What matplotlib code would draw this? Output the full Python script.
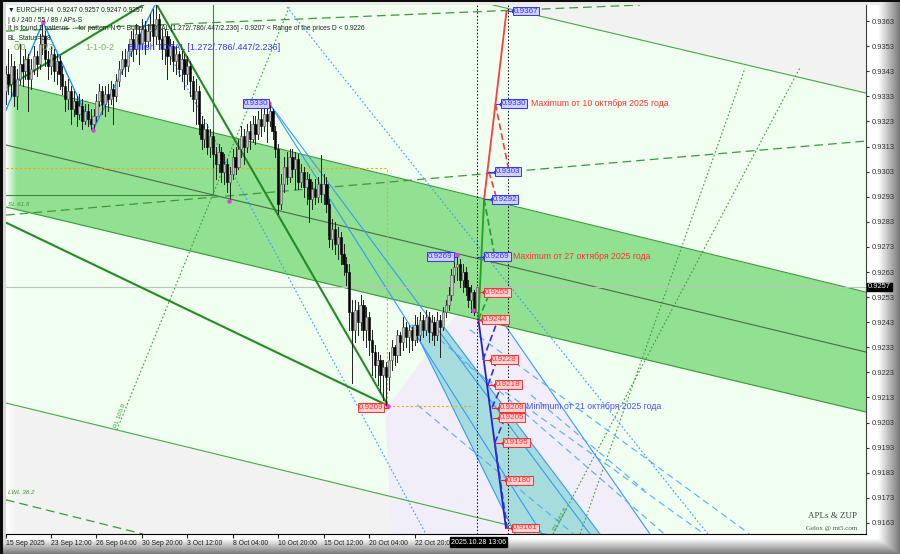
import numpy as np
import matplotlib
matplotlib.use("Agg")
import matplotlib.pyplot as plt

plt.rcParams['font.family'] = ['Liberation Sans', 'DejaVu Sans']

# ---------------- candle data (price in pips: 9342 -> 0.9342) ----------------
first_open = 9335
closes = [9342, 9338, 9345, 9333, 9340, 9346, 9343, 9348, 9340, 9344,
          9349, 9346, 9354, 9357, 9348, 9345, 9350, 9343, 9347, 9342,
          9337, 9332, 9335, 9328, 9331, 9326, 9329, 9323, 9327, 9324,
          9322, 9325, 9331, 9335, 9330, 9334, 9332, 9336, 9333, 9339,
          9344, 9348, 9345, 9351, 9356, 9352, 9358, 9354, 9360, 9355,
          9359, 9362, 9357, 9364, 9356, 9352, 9357, 9349, 9353, 9347,
          9350, 9344, 9348, 9342, 9345, 9339, 9332, 9335, 9322, 9316,
          9320, 9313, 9317, 9310, 9306, 9311, 9303, 9306, 9299, 9302,
          9309, 9305, 9312, 9317, 9313, 9319, 9316, 9322, 9318, 9324,
          9321, 9326, 9323, 9327, 9319, 9312, 9290, 9298, 9305, 9301,
          9309, 9304, 9308, 9299, 9303, 9297, 9300, 9292, 9296, 9293,
          9298, 9294, 9298, 9290, 9276, 9280, 9274, 9277, 9270, 9266,
          9263, 9247, 9240, 9248, 9243, 9250, 9240, 9245, 9236, 9231,
          9226, 9228, 9222, 9225, 9221, 9228, 9233, 9230, 9238, 9235,
          9241, 9237, 9240, 9236, 9242, 9238, 9244, 9240, 9245, 9239,
          9243, 9238, 9244, 9241, 9247, 9250, 9254, 9262, 9265, 9266,
          9260, 9263, 9257, 9252, 9255, 9247, 9257]
highs = [9345, 9352, 9350, 9347, 9344, 9354, 9349, 9352, 9350, 9348,
         9353, 9351, 9358, 9363, 9359, 9351, 9353, 9352, 9350, 9349,
         9345, 9339, 9340, 9337, 9335, 9333, 9334, 9332, 9330, 9330,
         9328, 9328, 9334, 9338, 9337, 9337, 9338, 9339, 9338, 9342,
         9347, 9351, 9352, 9354, 9359, 9360, 9362, 9361, 9364, 9363,
         9362, 9366, 9368, 9369.4, 9366, 9360, 9360, 9359, 9356, 9355,
         9353, 9351, 9351, 9350, 9349, 9347, 9341, 9340, 9337, 9325,
         9324, 9322, 9320, 9319, 9313, 9314, 9313, 9310, 9308, 9305,
         9312, 9313, 9316, 9321, 9320, 9322, 9323, 9325, 9325, 9327,
         9328, 9329, 9329, 9330.3, 9328, 9321, 9314, 9302, 9309, 9311,
         9312, 9312, 9311, 9310, 9306, 9305, 9303, 9302, 9299, 9300,
         9301, 9309.6, 9302, 9301, 9292, 9284, 9283, 9281, 9279, 9274,
         9269, 9266, 9252, 9252, 9251, 9254, 9252, 9249, 9247, 9240,
         9234, 9231, 9230, 9228, 9227, 9231, 9236, 9234, 9240, 9239,
         9245, 9243, 9242, 9241, 9246, 9245, 9247, 9246, 9248, 9247,
         9246, 9245, 9247, 9246, 9249, 9252, 9257, 9264, 9267, 9269.8,
         9268, 9266, 9265, 9260, 9258, 9256, 9257]
lows = [9330, 9334, 9333, 9329, 9328, 9338, 9337, 9340, 9327, 9336,
        9342, 9341, 9344, 9350, 9345, 9340, 9342, 9339, 9338, 9336,
        9334, 9327, 9328, 9322, 9325, 9321, 9324, 9320, 9322, 9321,
        9320, 9319.6, 9323, 9329, 9326, 9325, 9327, 9330, 9322, 9331,
        9337, 9342, 9341, 9343, 9349, 9347, 9350, 9346, 9352, 9350,
        9353, 9355, 9352, 9354, 9352, 9348, 9346, 9340, 9346, 9343,
        9342, 9341, 9339, 9336, 9338, 9333, 9327, 9322, 9318, 9312,
        9313, 9310, 9309, 9305, 9300, 9303, 9299, 9298, 9295, 9291.3,
        9300, 9302, 9304, 9309, 9306, 9311, 9312, 9315, 9314, 9316,
        9317, 9319, 9315, 9321, 9316, 9309, 9286, 9288, 9295, 9298,
        9299, 9301, 9296, 9296, 9297, 9293, 9290, 9283, 9288, 9290,
        9291, 9291, 9290, 9287, 9273, 9272, 9270, 9268, 9266, 9262,
        9258, 9240, 9218.8, 9235, 9238, 9240, 9236, 9233, 9230, 9222,
        9221, 9218, 9215, 9212, 9209.7, 9216, 9224, 9226, 9227, 9230,
        9232, 9233, 9231, 9232, 9234, 9235, 9236, 9237, 9238, 9235,
        9236, 9234, 9236, 9229, 9240, 9245, 9248, 9252, 9259, 9260,
        9257, 9255, 9254, 9249, 9247, 9246, 9247]

date_ticks = [0.155, 16, 32, 48, 64, 80, 96, 112, 128, 144]
date_labels = ["15 Sep 2025", "23 Sep 12:00", "26 Sep 04:00", "30 Sep 20:00",
               "3 Oct 12:00", "8 Oct 04:00", "10 Oct 20:00", "15 Oct 12:00",
               "20 Oct 04:00", "22 Oct 20:00"]
price_ticks = list(range(9163, 9364, 10))
current_price = 9257

# ---------------- channel / pattern geometry (bar index, pips) ----------------
band_x = [0.155, 303]
band_top = [9338.7, 9255.0]
band_bot = [9288.9, 9207.2]
median_y = [9313.6, 9231.1]
gray_top_x = [171.6, 303]
gray_top_y = [9369.4, 9334.3]
gray_bot_y = [9210.8, 9127.5]

teal_x = [143.1, 153.0, 209.3, 179.4]
teal_y = [9241.9, 9243.1, 9158.6, 9158.6]
lav_x = [133.6, 160.0, 174.1, 226.9, 136.0]
lav_y = [9208.0, 9248.0, 9244.7, 9158.6, 9158.6]

thick_green = [((0.5, 9336.7), (48.4, 9369.4)),
               ((53.3, 9369.4), (134.7, 9209.7)),
               ((0.5, 9282.5), (134.7, 9209.7))]
dashed_green = [((0.155, 9285.7), (303, 9315.2)),
                ((0.155, 9359.0), (223.4, 9369.4)),
                ((0.155, 9172.2), (48.4, 9158.6))]
dotted_green = [((39.2, 9200.1), (100.2, 9369.4)),
                ((192.8, 9158.6), (279.7, 9344.3)),
                ((202.3, 9158.6), (260.4, 9344.3))]
blue_solid = [((92.8, 9330.3), (205.8, 9158.6)),
              ((92.8, 9330.3), (188.9, 9158.6)),
              ((143.1, 9241.9), (179.4, 9158.6)),
              ((153.0, 9243.1), (209.3, 9158.6)),
              ((174.1, 9244.7), (226.9, 9158.6))]
blue_dotted = [((54.4, 9356.6), (148.0, 9158.6)),
               ((99.1, 9368.6), (247.3, 9158.6))]
blue_dashed = [((153.0, 9236.0), (232.0, 9158.6)),
               ((160.0, 9228.0), (246.0, 9158.6)),
               ((163.5, 9240.0), (262.0, 9158.6)),
               ((145.0, 9210.0), (200.0, 9158.6)),
               ((185.0, 9214.0), (225.0, 9176.0))]

zup_x = [0.155, 13.2, 30.8, 52.6]
zup_y = [9327.5, 9362.6, 9319.6, 9369.4]
pivot_x = [13.2, 30.8, 78.7, 92.8, 134.7, 159.0, 164.6]
pivot_y = [9362.6, 9319.6, 9291.3, 9330.3, 9209.7, 9269.8, 9247.9]

# projection from last bar
proj_green_solid = [((166.5, 9244), (168.5, 9292))]
proj_green_dash = [((168.5, 9292), (172.3, 9269)), ((166.5, 9244), (170.6, 9255))]
proj_red_solid = [((168.5, 9292), (176.4, 9367))]
proj_red_dash = [((172.5, 9330), (177.3, 9303)), ((170.2, 9303), (173.0, 9292))]
proj_blue_solid = [((166.5, 9244), (176.2, 9161))]
proj_blue_dash = [((168.1, 9228), (173.4, 9244)), ((169.9, 9218), (173.0, 9228)),
                  ((171.3, 9209), (174.8, 9218)), ((172.3, 9195), (175.9, 9205)),
                  ((172.3, 9195), (176.6, 9161))]

blue_lbl_vals = [9367, 9330, 9303, 9292, 9269]
blue_lbl_x = [179.0, 174.8, 172.7, 171.6, 168.8]
blue_conn_x = [176.9, 172.6, 169.9, 168.5, 166.0]
blue_left_vals = [9330, 9269]
blue_left_x = [92.4, 157.5]
blue_left_pt = [92.8, 159.0]
red_lbl_vals = [9255, 9244, 9228, 9218, 9209, 9205, 9195, 9180, 9161]
red_lbl_x = [168.8, 168.1, 171.3, 172.7, 174.1, 174.1, 175.5, 176.6, 178.7]
red_conn_x = [166.7, 166.4, 168.1, 169.9, 171.3, 171.6, 172.3, 174.5, 176.2]
red_left_vals = [9209]
red_left_x = [132.9]
red_left_pt = [134.7]

# ---------------- figure ----------------
fig = plt.figure(figsize=(9, 5.54), dpi=100)

# frame background
Hh, Ww = 554, 900
xx = np.arange(Ww)[None, :].astype(float)
yy = np.arange(Hh)[:, None].astype(float)
r = np.clip((xx - 878) / 22, 0, 1) * (xx >= 866)
b = np.clip((yy - 538) / 16, 0, 1) * (yy >= 534)
shade = 1 - 0.55 * np.maximum(r, b)
shade[:2, :] = 0.05
shade[2:5, :] = np.minimum(shade[2:5, :], 0.92)
shade[:, :3] = 0.05
shade[:, 3:6] = np.minimum(shade[:, 3:6], 0.85)
bg = fig.add_axes([0, 0, 1, 1], zorder=0)
bg.imshow(np.dstack([shade] * 3), aspect='auto', extent=[0, Ww, Hh, 0])
bg.axis('off')

ax = fig.add_axes([6 / 900, 20 / 554, 860 / 900, 529 / 554], zorder=1)
ax.set_facecolor('#f0fff0')
ax.set_xlim(0.155, 302.98)
ax.set_ylim(9158.6, 9369.4)

# fills
ax.fill_between(gray_top_x, gray_top_y, [9400, 9400], color='#f2f2f2', zorder=1, lw=0)
ax.fill_between(band_x, [9100, 9100], gray_bot_y, color='#f2f2f2', zorder=1, lw=0)
ax.fill(lav_x, lav_y, color='#f1eefa', zorder=1.2, lw=0)
ax.fill_between(band_x, band_bot, band_top, color='#92e092', zorder=1.5, lw=0)
ax.fill(teal_x, teal_y, color='#a6dcdc', zorder=1.6, lw=0)

# left white fade
fade = np.ones((2, 64, 4))
fade[..., 3] = np.linspace(1, 0, 64)[None, :]
ax.imshow(fade, extent=[0.155, 4.0, 9158.6, 9369.4], aspect='auto', zorder=1.8)

# channel lines
ax.plot(band_x, band_top, color='#3a9a3a', lw=0.8, zorder=2)
ax.plot(band_x, band_bot, color='#3a9a3a', lw=0.8, zorder=2)
ax.plot(band_x, median_y, color='#4b6b4b', lw=0.8, zorder=2)
ax.plot(gray_top_x, gray_top_y, color='#44aa44', lw=0.8, zorder=2)
ax.plot(band_x, gray_bot_y, color='#44aa44', lw=0.8, zorder=2)
ax.plot([73, 73], [9293.7, 9369.4], color='#3a8a3a', lw=0.8, zorder=2)
ax.plot([0.155, 73], [9293.7, 9293.7], color='#3a8a3a', lw=0.8, zorder=2)

for (a, c) in thick_green:
    ax.plot([a[0], c[0]], [a[1], c[1]], color='#228b22', lw=1.5, zorder=3)
for (a, c) in dashed_green:
    ax.plot([a[0], c[0]], [a[1], c[1]], color='#3a9a3a', lw=0.9, ls=(0, (7, 4)), zorder=2)
for (a, c) in dotted_green:
    ax.plot([a[0], c[0]], [a[1], c[1]], color='#3a9a3a', lw=0.8, ls=(0, (1.5, 2)), zorder=2)
for (a, c) in blue_solid:
    ax.plot([a[0], c[0]], [a[1], c[1]], color='#3399ff', lw=0.8, zorder=2.2)
for (a, c) in blue_dotted:
    ax.plot([a[0], c[0]], [a[1], c[1]], color='#3399ff', lw=0.8, ls=(0, (1.5, 2)), zorder=2.2)
for (a, c) in blue_dashed:
    ax.plot([a[0], c[0]], [a[1], c[1]], color='#55aaff', lw=0.8, ls=(0, (6, 4)), zorder=2.2)

# orange level lines
ax.plot([0.155, 134.3, 134.3], [9304.4, 9304.4, 9209.7], color='#ffa500', lw=0.8,
        ls=(0, (2, 2)), zorder=2.3)
ax.plot([134.7, 164.6], [9209.7, 9209.7], color='#ffa500', lw=0.8, ls=(0, (2, 2)), zorder=2.3)

# current price line
ax.axhline(current_price, color='#c0c0c0', lw=0.8, zorder=2.4)

# zigzag
ax.plot(zup_x, zup_y, color='#1e90ff', lw=1.0, zorder=4)

# candles
n = len(closes)
opens = [first_open] + closes[:-1]
for i in range(n):
    o, c = opens[i], closes[i]
    h, l = max(highs[i], o, c), min(lows[i], o, c)
    bull = c >= o
    ax.plot([i, i], [l, h], color='#202020', lw=0.7, zorder=5)
    ax.bar(i, max(abs(c - o), 0.4), bottom=min(o, c), width=0.8,
           color=('#c4c4c4' if bull else '#000000'),
           edgecolor=('#505050' if bull else '#000000'), lw=0.4, zorder=6)

ax.scatter(pivot_x, pivot_y, s=5, color='#e040e0', zorder=7)

# vertical markers
ax.axvline(166.0, color='#000000', lw=0.7, ls=(0, (1.5, 2)), zorder=4)
ax.axvline(176.9, color='#000000', lw=0.7, ls=(0, (1.5, 2)), zorder=4)

# projection
def seg(lst, **kw):
    for (a, c) in lst:
        ax.plot([a[0], c[0]], [a[1], c[1]], zorder=8, **kw)

seg(proj_green_solid, color='#22a022', lw=1.3)
seg(proj_green_dash, color='#22a022', lw=1.2, ls=(0, (4, 2)))
seg(proj_red_solid, color='#ff3b3b', lw=1.3)
seg(proj_red_dash, color='#ff3b3b', lw=1.2, ls=(0, (4, 2)))
seg(proj_blue_solid, color='#2020d0', lw=1.3)
seg(proj_blue_dash, color='#3030e0', lw=1.2, ls=(0, (4, 2)))

def box(x, v, fc, ec, tc, ha='left'):
    ax.text(x, v, f"0.{v}", fontsize=5.8, color=tc, ha=ha, va='center', zorder=10,
            bbox=dict(boxstyle='square,pad=0.12', fc=fc, ec=ec, lw=0.7))

for v, x, cx in zip(blue_lbl_vals, blue_lbl_x, blue_conn_x):
    ax.plot([cx, x], [v, v], color='#3333ff', lw=0.8, zorder=9)
    ax.plot([x - 0.3], [v], marker='s', ms=2, color='#3333ff', zorder=9)
    box(x, v, '#d0d0ff', '#3333ff', '#3333ff')
for v, x, px in zip(blue_left_vals, blue_left_x, blue_left_pt):
    ax.plot([x, px], [v, v], color='#3333ff', lw=0.8, zorder=9)
    box(x, v, '#d0d0ff', '#3333ff', '#3333ff', ha='right')
for v, x, cx in zip(red_lbl_vals, red_lbl_x, red_conn_x):
    ax.plot([cx, x], [v, v], color='#ff2020', lw=0.8, zorder=9)
    ax.plot([x - 0.3], [v], marker='s', ms=2, color='#ff2020', zorder=9)
    box(x, v, '#ffd0d0', '#ff3030', '#ff3030')
for v, x, px in zip(red_left_vals, red_left_x, red_left_pt):
    ax.plot([x, px], [v, v], color='#ff2020', lw=0.8, zorder=9)
    box(x, v, '#ffd0d0', '#ff3030', '#ff3030', ha='right')

ax.text(185.0, 9330, "Maximum от 10 октября 2025 года", fontsize=6.3, color='#ff3333',
        va='center', zorder=10)
ax.text(178.7, 9269, "Maximum от 27 октября 2025 года", fontsize=6.3, color='#ff3333',
        va='center', zorder=10)
ax.text(183.3, 9209.5, "Minimum от 21 октября 2025 года", fontsize=6.3, color='#5050ff',
        va='center', zorder=10)

# small level labels
ax.text(1.0, 9289.5, "SL 61.8", fontsize=4.5, color='#3a9a3a', style='italic', zorder=3)
ax.text(1.0, 9174.5, "LWL 38.2", fontsize=4.5, color='#3a9a3a', style='italic', zorder=3)
ax.text(38.0, 9201, "RL 100.0", fontsize=4.5, color='#3a9a3a', rotation=70, zorder=3)
ax.text(192.5, 9160, "RL 161.8", fontsize=4.5, color='#3a9a3a', rotation=62, zorder=3)

# header
hdr = [("\u25BC EURCHF,H4  0.9247 0.9257 0.9247 0.9257", 10),
       ("| 6 / 240 / 55 / 89 / APs-S", 20),
       ("It is found 1 patterns  -  for pattern N 0 - Bullish TOTAL [1.272/.786/.447/2.236] - 0.9207 < Range of the prices D < 0.9226", 29),
       ("BL_Status=5:8", 38)]
for t, ypx in hdr:
    ax.text(2 / 860, 1 - (ypx - 5) / 529, t, transform=ax.transAxes, fontsize=4.75,
            color='#202020', va='center', ha='left', zorder=11)
for t, xpx, col in [("0/0", 14, '#8aa86a'), ("0/3", 42, '#8aa86a'), ("1-1-0-2", 85, '#8aa86a'),
                    ("Bullish TOTAL [1.272/.786/.447/2.236]", 128, '#3333ff')]:
    ax.text((xpx - 6) / 860, 1 - (47 - 5) / 529, t, transform=ax.transAxes, fontsize=6.5,
            color=col, va='center', ha='left', zorder=11)

# watermark
ax.text(0.990, 0.027, "APLs & ZUP", transform=ax.transAxes, fontsize=6.5, color='#404040',
        family=['Liberation Serif', 'DejaVu Serif'], ha='right', va='bottom', zorder=11)
ax.text(0.990, 0.006, "Gelox @ mt5.com", transform=ax.transAxes, fontsize=5, color='#505050',
        family=['Liberation Serif', 'DejaVu Serif'], ha='right', va='bottom', zorder=11)

# axes styling
for s in ['top', 'left']:
    ax.spines[s].set_visible(False)
ax.spines['bottom'].set_color('#000000')
ax.spines['right'].set_color('#404040')
ax.yaxis.tick_right()
ax.set_yticks(price_ticks)
ax.set_yticklabels([f"0.{v}" for v in price_ticks])
ax.tick_params(axis='y', length=2, pad=2, labelsize=5.4, colors='#303030')
ax.set_xticks(date_ticks)
ax.set_xticklabels(date_labels, ha='left')
ax.tick_params(axis='x', length=3, pad=1.5, labelsize=4.95, colors='#202020', direction='out')

# current price tag and time tag
fig.text(868 / 900, 1 - 287 / 554, f"0.{current_price}", fontsize=5.4, color='white',
         va='center', ha='left', zorder=20,
         bbox=dict(boxstyle='square,pad=0.1', fc='black', ec='black'))
fig.text(451 / 900, 1 - 542 / 554, "2025.10.28 13:06", fontsize=5.0, color='white',
         va='center', ha='left', zorder=20,
         bbox=dict(boxstyle='square,pad=0.15', fc='black', ec='black'))

fig.savefig("out.png", dpi=100)
